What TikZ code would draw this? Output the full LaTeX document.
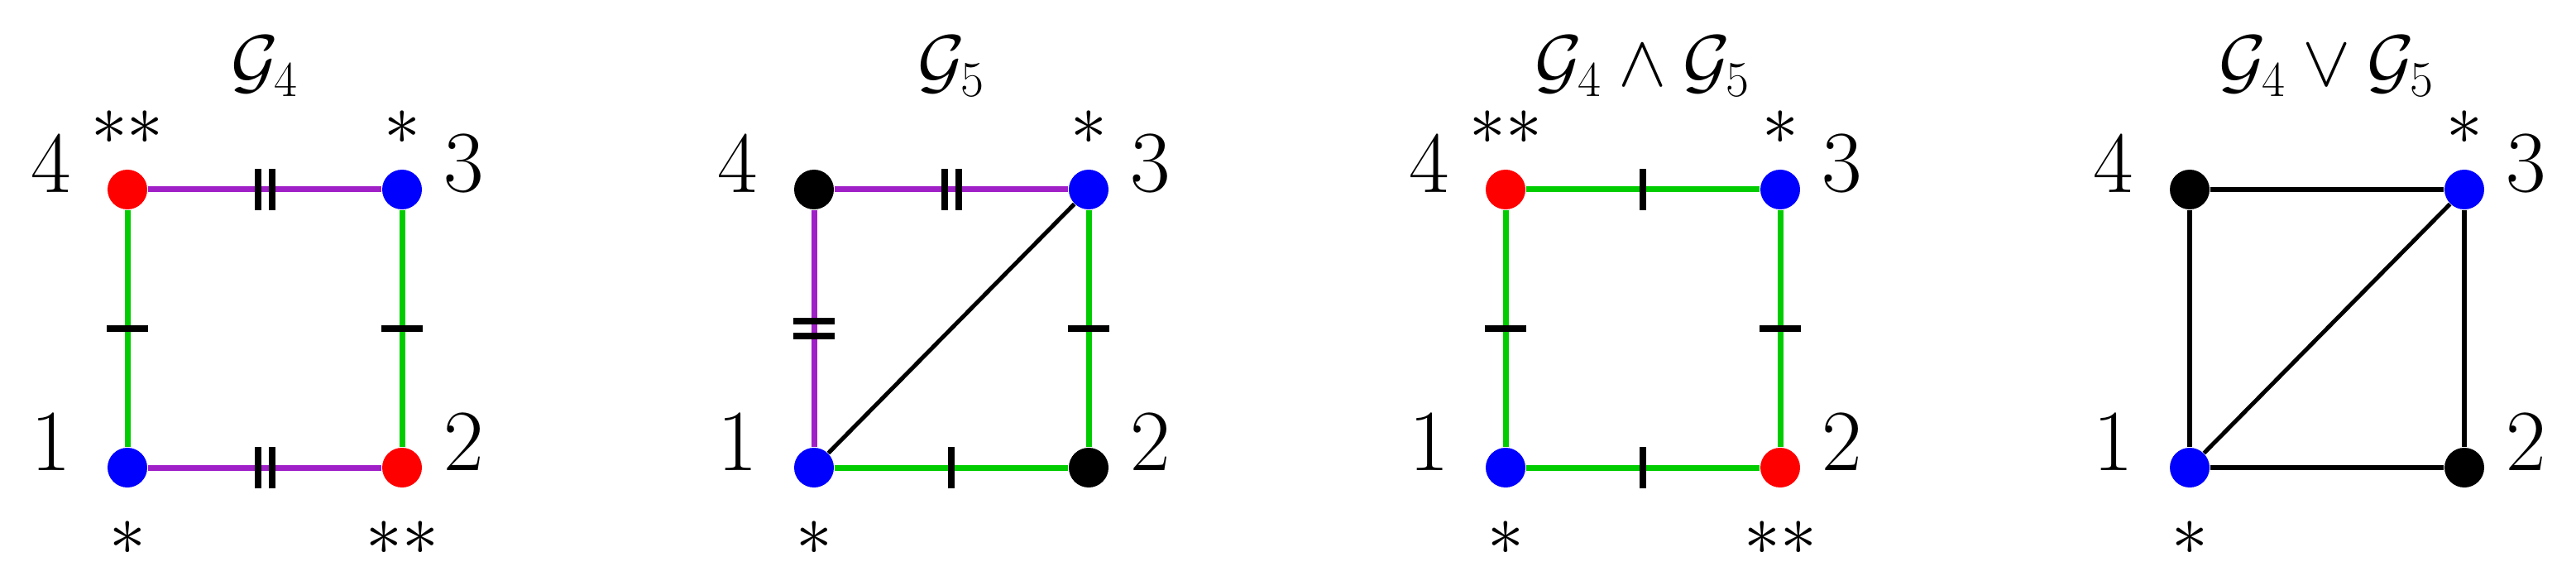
\documentclass[tikz,border=0pt]{standalone}
\usetikzlibrary{decorations.markings}
\definecolor{pur}{RGB}{160,32,200}
\definecolor{grn}{RGB}{0,204,0}
\begin{document}
\begin{tikzpicture}[
  vtx/.style={circle,inner sep=0pt,minimum size=0.48cm},
  lbl/.style={font=\fontsize{30}{36}\selectfont,inner sep=0pt},
  ttl/.style={font=\fontsize{26}{32}\selectfont,inner sep=0pt},
  ce/.style={line width=0.07cm},
  be/.style={line width=0.065cm,black},
  de/.style={line width=0.05cm,black},
  tickone/.style={postaction={decorate},decoration={markings,mark=at position .5 with {\draw[black,line width=0.08cm] (0,-0.25)--(0,0.25);}}},
  ticktwo/.style={postaction={decorate},decoration={markings,mark=at position .5 with {\draw[black,line width=0.08cm] (-0.085,-0.25)--(-0.085,0.25) (0.085,-0.25)--(0.085,0.25);}}}
]
\useasboundingbox (0,0) rectangle (31.14,7.01);
% ---------- G4
\begin{scope}[xshift=1.54cm]
\node[vtx,fill=blue] (a1) at (0,1.36) {};
\node[vtx,fill=red] (a2) at (3.32,1.36) {};
\node[vtx,fill=blue] (a3) at (3.32,4.72) {};
\node[vtx,fill=red] (a4) at (0,4.72) {};
\node[lbl] (a1l) at (-0.92,1.67) {1};
\node[lbl] (a2l) at (4.07,1.67) {2};
\node[lbl] (a3l) at (4.07,5.04) {3};
\node[lbl] (a4l) at (-0.92,5.04) {4};
\node[lbl] (a4s) at (0,5.47) {$\ast\ast$};
\node[lbl] (a3s) at (3.32,5.47) {$\ast$};
\node[lbl] (a1s) at (0,0.51) {$\ast$};
\node[lbl] (a2s) at (3.32,0.51) {$\ast\ast$};
\node[ttl] (at) at (1.66,6.21) {$\mathcal{G}_4$};
\draw[ce,pur,ticktwo] (a4)--(a3);
\draw[ce,pur,ticktwo] (a1)--(a2);
\draw[ce,grn,tickone] (a4)--(a1);
\draw[ce,grn,tickone] (a3)--(a2);
\end{scope}
% ---------- G5
\begin{scope}[xshift=9.84cm]
\node[vtx,fill=blue] (b1) at (0,1.36) {};
\node[vtx,fill=black] (b2) at (3.32,1.36) {};
\node[vtx,fill=blue] (b3) at (3.32,4.72) {};
\node[vtx,fill=black] (b4) at (0,4.72) {};
\node[lbl] (b1l) at (-0.92,1.67) {1};
\node[lbl] (b2l) at (4.07,1.67) {2};
\node[lbl] (b3l) at (4.07,5.04) {3};
\node[lbl] (b4l) at (-0.92,5.04) {4};
\node[lbl] (b3s) at (3.32,5.47) {$\ast$};
\node[lbl] (b1s) at (0,0.51) {$\ast$};
\node[ttl] (bt) at (1.66,6.21) {$\mathcal{G}_5$};
\draw[ce,pur,ticktwo] (b4)--(b3);
\draw[ce,pur,ticktwo] (b4)--(b1);
\draw[de] (b1)--(b3);
\draw[ce,grn,tickone] (b3)--(b2);
\draw[ce,grn,tickone] (b1)--(b2);
\end{scope}
% ---------- G4 and G5
\begin{scope}[xshift=18.20cm]
\node[vtx,fill=blue] (c1) at (0,1.36) {};
\node[vtx,fill=red] (c2) at (3.32,1.36) {};
\node[vtx,fill=blue] (c3) at (3.32,4.72) {};
\node[vtx,fill=red] (c4) at (0,4.72) {};
\node[lbl] (c1l) at (-0.92,1.67) {1};
\node[lbl] (c2l) at (4.07,1.67) {2};
\node[lbl] (c3l) at (4.07,5.04) {3};
\node[lbl] (c4l) at (-0.92,5.04) {4};
\node[lbl] (c4s) at (0,5.47) {$\ast\ast$};
\node[lbl] (c3s) at (3.32,5.47) {$\ast$};
\node[lbl] (c1s) at (0,0.51) {$\ast$};
\node[lbl] (c2s) at (3.32,0.51) {$\ast\ast$};
\node[ttl] (ct) at (1.66,6.21) {$\mathcal{G}_4\wedge\mathcal{G}_5$};
\draw[ce,grn,tickone] (c4)--(c3);
\draw[ce,grn,tickone] (c1)--(c2);
\draw[ce,grn,tickone] (c4)--(c1);
\draw[ce,grn,tickone] (c3)--(c2);
\end{scope}
% ---------- G4 or G5
\begin{scope}[xshift=26.47cm]
\node[vtx,fill=blue] (d1) at (0,1.36) {};
\node[vtx,fill=black] (d2) at (3.32,1.36) {};
\node[vtx,fill=blue] (d3) at (3.32,4.72) {};
\node[vtx,fill=black] (d4) at (0,4.72) {};
\node[lbl] (d1l) at (-0.92,1.67) {1};
\node[lbl] (d2l) at (4.07,1.67) {2};
\node[lbl] (d3l) at (4.07,5.04) {3};
\node[lbl] (d4l) at (-0.92,5.04) {4};
\node[lbl] (d3s) at (3.32,5.47) {$\ast$};
\node[lbl] (d1s) at (0,0.51) {$\ast$};
\node[ttl] (dt) at (1.66,6.21) {$\mathcal{G}_4\vee\mathcal{G}_5$};
\draw[be] (d4)--(d3);
\draw[be] (d1)--(d2);
\draw[be] (d4)--(d1);
\draw[be] (d3)--(d2);
\draw[de] (d1)--(d3);
\end{scope}
\end{tikzpicture}
\end{document}
